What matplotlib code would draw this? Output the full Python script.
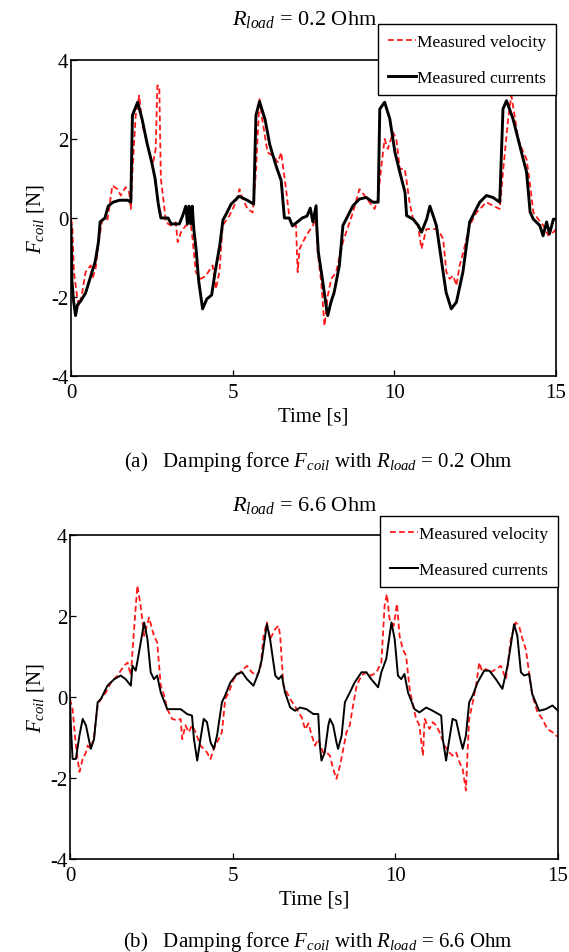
import numpy as np
import matplotlib
matplotlib.use("Agg")
import matplotlib.pyplot as plt

plt.rcParams['font.family'] = ['Liberation Serif', 'DejaVu Serif']
plt.rcParams['mathtext.fontset'] = 'custom'
plt.rcParams['mathtext.rm'] = 'Liberation Serif'
plt.rcParams['mathtext.it'] = 'Liberation Serif:italic'
plt.rcParams['axes.unicode_minus'] = False

# ---------------- data ----------------
# (a) R_load = 0.2 Ohm : measured currents (black)
t_cur_a = [0, 0.03, 0.08, 0.14, 0.2, 0.3, 0.45, 0.6, 0.75, 0.85, 0.9, 1.05, 1.15, 1.3, 1.5, 1.75,
           1.85, 1.9, 2.06, 2.2, 2.35, 2.5, 2.6, 2.7, 2.78, 3.0, 3.1, 3.35, 3.45, 3.55, 3.6, 3.65,
           3.7, 3.75, 3.8, 3.87, 3.95, 4.07, 4.2, 4.35, 4.45, 4.6, 4.7, 4.8, 4.95, 5.2, 5.45,
           5.65, 5.72, 5.83, 6.0, 6.15, 6.35, 6.5, 6.6, 6.75, 6.85, 7.15, 7.3, 7.4, 7.48, 7.58,
           7.6, 7.65, 7.79, 7.89, 7.94, 8.04, 8.14, 8.3, 8.41, 8.51, 8.72, 8.92, 9.13, 9.34, 9.5,
           9.55, 9.7, 9.86, 10.02, 10.17, 10.33, 10.38, 10.58, 10.74, 10.84, 11.0, 11.1, 11.2,
           11.3, 11.45, 11.6, 11.76, 11.92, 12.12, 12.33, 12.43, 12.64, 12.85, 13.05, 13.26,
           13.36, 13.47, 13.67, 13.88, 14.09, 14.2, 14.3, 14.5, 14.6, 14.71, 14.8, 14.92, 15.0]
y_cur_a = [-0.2, -1.6, -2.1, -2.47, -2.2, -2.1, -1.9, -1.5, -1.1, -0.6, -0.1, 0.0, 0.3, 0.4, 0.45, 0.45,
           0.4, 2.6, 2.93, 2.5, 1.9, 1.4, 1.0, 0.35, 0.0, 0.0, -0.15, -0.15, 0.05, 0.3, -0.15, 0.3,
           -0.15, 0.3, -0.3, -0.8, -1.6, -2.3, -2.05, -1.95, -1.4, -0.7, -0.05, 0.1, 0.35, 0.55, 0.45,
           0.35, 2.6, 2.95, 2.5, 1.85, 1.3, 0.95, 0.0, 0.0, -0.2, 0.0, 0.05, 0.25, -0.1, 0.31,
           -0.19, -0.87, -1.63, -2.22, -2.47, -2.13, -1.88, -1.2, -0.19, -0.03, 0.31, 0.48, 0.52, 0.4, 0.4,
           2.76, 2.93, 2.51, 1.66, 1.16, 0.65, 0.06, -0.03, -0.19, -0.36, -0.03, 0.3, 0.06,
           -0.19, -1.04, -1.88, -2.3, -2.13, -1.37, -0.1, 0.06, 0.4, 0.57, 0.52, 0.4,
           2.76, 2.97, 2.51, 1.83, 1.16, 0.15, -0.03, -0.19, -0.45, -0.1, -0.4, -0.03, -0.03]

# (a) measured velocity (red dashed)
t_vel_a = [0, 0.04, 0.09, 0.2, 0.25, 0.35, 0.45, 0.61, 0.66, 0.76, 0.87, 0.97, 1.13, 1.28, 1.44, 1.54,
           1.69, 1.80, 1.85, 1.90, 2.0, 2.11, 2.21, 2.37, 2.52, 2.62, 2.67, 2.73, 2.78, 2.88, 2.93,
           3.09, 3.24, 3.30, 3.40, 3.55, 3.71, 3.76, 3.86, 4.02, 4.17, 4.38, 4.48, 4.59, 4.69, 4.90,
           5.10, 5.21, 5.31, 5.46, 5.62, 5.72, 5.83, 5.93, 6.08, 6.24, 6.40, 6.50, 6.65, 6.76, 6.86,
           6.96, 7.01, 7.07, 7.27, 7.48, 7.58, 7.63, 7.74, 7.84, 7.94, 8.05, 8.20, 8.41, 8.51, 8.72,
           8.92, 9.08, 9.23, 9.39, 9.49, 9.60, 9.70, 9.80, 9.96, 10.06, 10.17, 10.32, 10.37, 10.47,
           10.58, 10.73, 10.84, 10.99, 11.20, 11.30, 11.40, 11.51, 11.61, 11.71, 11.82, 11.92, 12.02,
           12.13, 12.23, 12.33, 12.54, 12.85, 13.05, 13.26, 13.36, 13.52, 13.62, 13.72, 13.83, 13.99,
           14.09, 14.19, 14.30, 14.45, 14.61, 14.76, 14.92, 15.0]
y_vel_a = [-0.03, -0.19, -1.37, -2.05, -2.22, -1.88, -1.37, -1.2, -1.54, -1.29, -0.53, -0.03, -0.03, 0.82, 0.73, 0.57,
           0.78, 0.65, 0.23, 1.16, 2.59, 3.10, 2.34, 1.83, 1.32, 1.75, 3.35, 3.35, 0.99, 0.31, -0.11,
           -0.19, -0.11, -0.61, -0.36, -0.19, -0.19, -0.53, -1.37, -1.54, -1.46, -1.2, -1.8, -1.37, -0.19, 0.06,
           0.40, 0.73, 0.48, 0.23, 0.14, 1.16, 3.01, 2.42, 1.66, 1.58, 1.41, 1.66, 0.73, -0.03, -0.19,
           -0.19, -1.37, -0.78, -0.45, -0.19, -0.03, -0.87, -1.63, -2.73, -1.97, -1.54, -1.37, -0.61, -0.36, 0.14,
           0.73, 0.57, 0.40, 0.23, 0.48, 1.32, 2.0, 1.75, 2.17, 2.0, 1.24, 1.24, 0.99, 0.40,
           -0.03, -0.19, -0.78, -0.28, -0.28, -0.28, -0.36, -0.53, -1.37, -1.54, -1.46, -1.71, -1.2,
           -0.87, -0.53, -0.19, 0.14, 0.40, 0.31, 0.23, 1.16, 2.51, 3.1, 2.59, 2.0, 1.66,
           1.49, 0.90, 0.14, -0.03, -0.19, -0.44, -0.36, -0.28]

# (b) R_load = 6.6 Ohm : measured currents (black)
t_cur_b = [0, 0.03, 0.08, 0.18, 0.29, 0.39, 0.49, 0.64, 0.74, 0.85, 0.95, 1.15, 1.36, 1.56, 1.71, 1.87,
           1.92, 2.02, 2.12, 2.28, 2.38, 2.48, 2.58, 2.68, 2.79, 2.99, 3.19, 3.40, 3.60, 3.75, 3.81,
           3.91, 4.01, 4.11, 4.21, 4.32, 4.42, 4.52, 4.67, 4.77, 4.93, 5.13, 5.29, 5.44, 5.64, 5.80,
           5.90, 6.05, 6.15, 6.31, 6.41, 6.51, 6.61, 6.77, 6.92, 7.07, 7.27, 7.48, 7.63, 7.68, 7.73,
           7.83, 7.94, 7.99, 8.09, 8.19, 8.24, 8.35, 8.45, 8.60, 8.75, 8.96, 9.11, 9.26, 9.47, 9.57,
           9.72, 9.88, 9.98, 10.08, 10.18, 10.28, 10.39, 10.59, 10.74, 10.95, 11.15, 11.41, 11.46,
           11.56, 11.66, 11.76, 11.87, 11.97, 12.07, 12.17, 12.27, 12.38, 12.53, 12.73, 12.89, 13.09,
           13.29, 13.45, 13.65, 13.75, 13.86, 13.96, 14.11, 14.21, 14.42, 14.62, 14.83, 15.0]
y_cur_b = [-0.05, -0.79, -1.53, -1.53, -0.95, -0.54, -0.70, -1.28, -1.04, -0.13, -0.05, 0.28, 0.44, 0.53, 0.44, 0.28,
           0.77, 0.65, 1.10, 1.84, 1.43, 0.61, 0.44, 0.53, 0.11, -0.30, -0.30, -0.30, -0.42, -0.46, -1.04,
           -1.57, -1.04, -0.54, -0.62, -1.12, -1.28, -0.95, -0.13, 0.04, 0.36, 0.57, 0.61, 0.44, 0.28, 0.61,
           0.94, 1.80, 1.43, 0.53, 0.44, 0.53, 0.11, -0.26, -0.34, -0.26, -0.30, -0.42, -0.42, -1.20, -1.57,
           -1.37, -0.70, -0.54, -0.70, -1.12, -1.28, -0.95, -0.13, 0.11, 0.36, 0.61, 0.61, 0.44, 0.24, 0.61,
           0.94, 1.84, 1.43, 0.53, 0.44, 0.57, 0.11, -0.30, -0.38, -0.26, -0.34, -0.46, -1.04,
           -1.57, -1.04, -0.54, -0.58, -0.95, -1.28, -0.95, -0.13, 0.04, 0.36, 0.65, 0.65, 0.44,
           0.20, 0.77, 1.80, 1.51, 0.61, 0.53, 0.57, 0.07, -0.34, -0.30, -0.21, -0.34]

# (b) measured velocity (red dashed)
t_vel_b = [0, 0.08, 0.18, 0.29, 0.39, 0.49, 0.54, 0.64, 0.74, 0.85, 0.95, 1.10, 1.26, 1.46, 1.66, 1.77,
           1.87, 1.97, 2.07, 2.17, 2.28, 2.43, 2.58, 2.68, 2.79, 2.89, 2.99, 3.14, 3.30, 3.40, 3.45,
           3.55, 3.65, 3.75, 3.86, 4.01, 4.11, 4.21, 4.32, 4.42, 4.57, 4.67, 4.77, 4.88, 5.03, 5.23,
           5.44, 5.59, 5.74, 5.85, 5.95, 6.05, 6.15, 6.31, 6.41, 6.46, 6.56, 6.77, 6.97, 7.12, 7.23,
           7.33, 7.43, 7.53, 7.63, 7.78, 7.89, 7.99, 8.09, 8.19, 8.30, 8.40, 8.50, 8.60, 8.70, 8.81,
           8.96, 9.11, 9.26, 9.42, 9.57, 9.67, 9.74, 9.82, 9.95, 10.05, 10.13, 10.23, 10.33, 10.44,
           10.54, 10.64, 10.74, 10.85, 10.90, 11.05, 11.15, 11.25, 11.36, 11.51, 11.66, 11.76, 11.87,
           11.97, 12.07, 12.17, 12.22, 12.27, 12.38, 12.48, 12.58, 12.68, 12.78, 12.94, 13.09, 13.24,
           13.40, 13.55, 13.70, 13.80, 13.91, 14.01, 14.11, 14.21, 14.37, 14.52, 14.67, 14.83, 15.0]
y_vel_b = [-0.05, -0.30, -1.20, -1.85, -1.53, -1.37, -1.20, -1.28, -0.95, -0.21, -0.05, 0.11, 0.36, 0.53, 0.77, 0.85,
           0.53, 1.68, 2.75, 2.26, 1.51, 1.96, 1.51, 1.35, 0.28, 0.04, -0.30, -0.54, -0.58, -0.54, -1.04,
           -0.70, -0.87, -0.70, -0.87, -1.20, -1.28, -1.37, -1.53, -1.28, -1.04, -0.87, -0.05, 0.11, 0.44, 0.61,
           0.77, 0.61, 0.53, 0.69, 1.51, 1.84, 1.43, 1.68, 1.76, 1.51, 0.28, -0.05, -0.30, -0.50, -0.80,
           -0.65, -0.95, -1.20, -1.04, -1.37, -1.37, -1.45, -1.78, -2.02, -1.69, -1.28, -0.87, -0.70, -0.21, 0.28,
           0.53, 0.61, 0.53, 0.61, 0.85, 2.26, 2.54, 1.93, 1.76, 2.30, 1.51, 1.18, 1.02, 0.20,
           -0.21, -0.54, -0.70, -1.45, -0.54, -0.79, -0.62, -0.70, -0.87, -1.20, -1.37, -1.45, -1.37,
           -1.61, -1.78, -2.31, -1.37, -0.54, -0.13, 0.28, 0.85, 0.61, 0.69, 0.61, 0.69, 0.77,
           0.44, 1.43, 1.84, 1.76, 1.43, 1.18, 0.61, 0.04, -0.38, -0.54, -0.79, -0.87, -0.99]

panels = [
    dict(t_cur=t_cur_a, y_cur=y_cur_a, t_vel=t_vel_a, y_vel=y_vel_a,
         title=r'$R_{load}$ = 0.2 Ohm',
         caption=r'(a)   Damping force $F_{coil}$ with $R_{load}$ = 0.2 Ohm'),
    dict(t_cur=t_cur_b, y_cur=y_cur_b, t_vel=t_vel_b, y_vel=y_vel_b,
         title=r'$R_{load}$ = 6.6 Ohm',
         caption=r'(b)   Damping force $F_{coil}$ with $R_{load}$ = 6.6 Ohm'),
]

W, H = 569, 953
fig = plt.figure(figsize=(W / 100, H / 100), dpi=100)


def add_axes_px(l, t, r, b):
    return fig.add_axes([l / W, 1 - b / H, (r - l) / W, (b - t) / H])


# pixel boxes: left, top, right, bottom
boxes = [(71, 61, 556, 377), (70, 536, 558, 860)]
title_y = [20, 505]
leg_top = [25, 517]
cap_y = [462, 942]
lw_cur = [2.1, 1.4]

for i, p in enumerate(panels):
    l, t, r, b = boxes[i]
    ax = add_axes_px(l, t, r, b)
    assert len(p['t_cur']) == len(p['y_cur']) and len(p['t_vel']) == len(p['y_vel'])
    ax.plot(p['t_vel'], p['y_vel'], color='#ff1a1a', lw=1.3, dashes=(3.2, 1.8),
            label='Measured velocity', zorder=2)
    ax.plot(p['t_cur'], p['y_cur'], color='black', lw=lw_cur[i],
            label='Measured currents', zorder=3)
    ax.set_xlim(0, 15)
    ax.set_ylim(-4, 4)
    ax.set_xticks([0, 5, 10, 15])
    ax.set_yticks([-4, -2, 0, 2, 4])
    ax.tick_params(direction='in', length=4, width=0.9, labelsize=15,
                   top=False, right=False)
    ax.tick_params(axis='x', pad=5)
    ax.tick_params(axis='y', pad=2)
    for s in ax.spines.values():
        s.set_linewidth(1.2)
    ax.set_xlabel('Time [s]', fontsize=15, labelpad=3)

    fig.text(35 / W, 1 - ((t + b) / 2) / H, r'$F_{coil}$ [N]', rotation=90,
             ha='center', va='center', fontsize=15)
    fig.text(305 / W, 1 - title_y[i] / H, p['title'], ha='center', va='center', fontsize=16)

    hpx = b - t
    leg = ax.legend(loc='upper right', bbox_to_anchor=(1.0, 1 + (t - leg_top[i]) / hpx),
                    fontsize=12.5, frameon=True, fancybox=False, edgecolor='black',
                    framealpha=1, handlelength=1.6, handletextpad=0.1, labelspacing=1.15,
                    borderpad=0.55, borderaxespad=0)
    leg.get_frame().set_linewidth(1.0)
    leg.set_zorder(5)

    fig.text(318 / W, 1 - cap_y[i] / H, p['caption'], ha='center', va='center', fontsize=15)

fig.savefig('out.png', dpi=100)
